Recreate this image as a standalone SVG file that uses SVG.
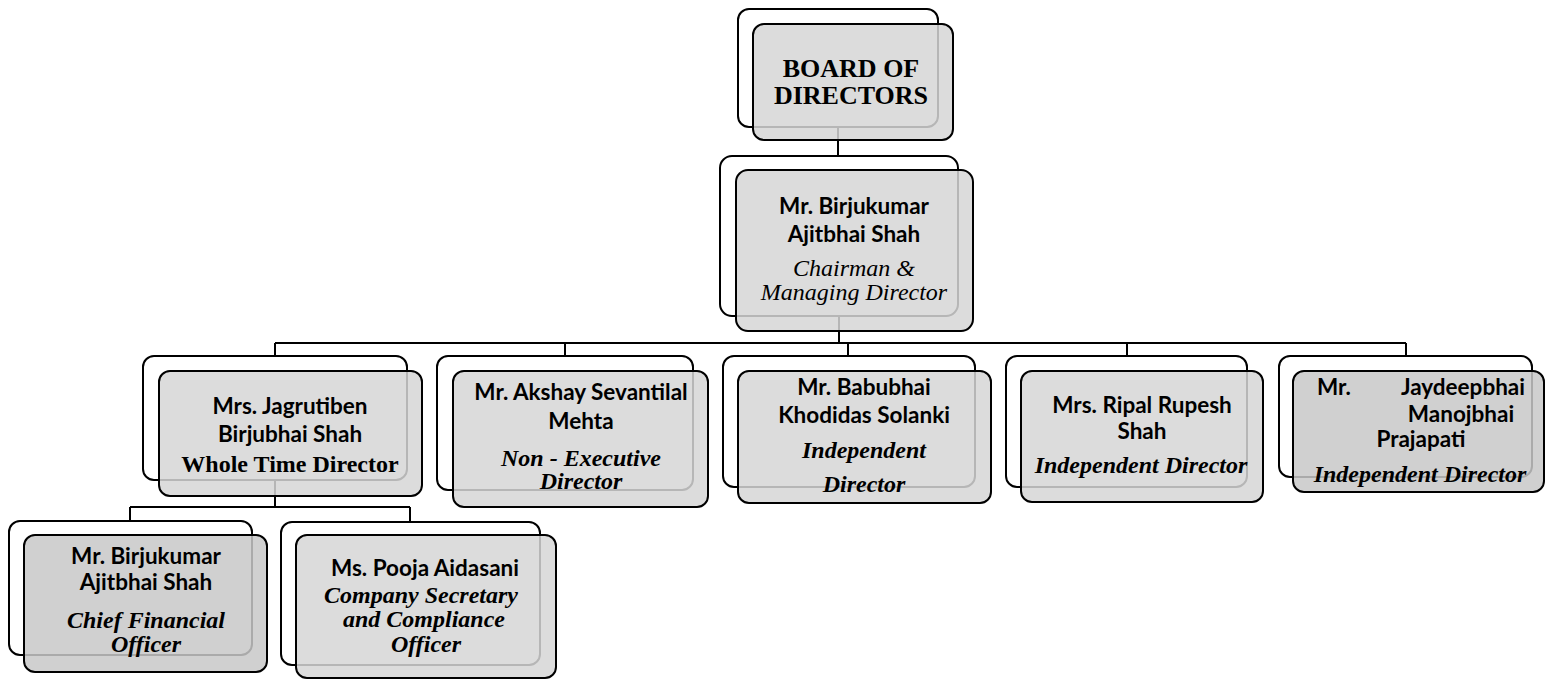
<svg xmlns="http://www.w3.org/2000/svg" width="1546" height="680" viewBox="0 0 1546 680">
<style>
.bg{fill:#ffffff}
.back{fill:#ffffff;stroke:#000;stroke-width:2}
.front{fill:#d6d6d6;fill-opacity:0.85;stroke:#000;stroke-width:2}
.dk{fill:#c8c8c8}
.conn{stroke:#000;stroke-width:2;fill:none}
.nm{font-family:Lato,"Liberation Sans",sans-serif;font-weight:bold;font-size:22.5px;text-anchor:middle;fill:#000}
.bi{font-family:"Liberation Serif",serif;font-style:italic;font-weight:bold;font-size:24px;text-anchor:middle;fill:#000}
.it{font-family:"Liberation Serif",serif;font-style:italic;font-size:24px;text-anchor:middle;fill:#000}
.bd{font-family:"Liberation Serif",serif;font-weight:bold;font-size:24px;text-anchor:middle;fill:#000}
.hd{font-family:"Liberation Serif",serif;font-weight:bold;font-size:26px;text-anchor:middle;fill:#000}
</style>
<rect class="bg" x="0" y="0" width="1546" height="680"/>
<g id="connectors">
<path class="conn" d="M838 127 V156"/>
<path class="conn" d="M839 316 V343"/>
<path class="conn" d="M275 343 H1406"/>
<path class="conn" d="M275 343 V356 M565 343 V356 M848 343 V356 M1127 343 V356 M1406 343 V356"/>
<path class="conn" d="M275 480 V507"/>
<path class="conn" d="M130 507 H410"/>
<path class="conn" d="M130 507 V521 M410 507 V522"/>
</g>
<g id="board">
<rect class="back" x="738" y="9" width="200" height="118" rx="11"/>
<rect class="front" x="753" y="24" width="200" height="116" rx="11"/>
<text class="hd" x="851" y="77">BOARD OF</text>
<text class="hd" x="851" y="104">DIRECTORS</text>
</g>
<g id="chairman">
<rect class="back" x="720" y="156" width="238" height="160" rx="12"/>
<rect class="front" x="736" y="170" width="237" height="161" rx="12"/>
<text class="nm" x="854" y="214">Mr. Birjukumar</text>
<text class="nm" x="854" y="242">Ajitbhai Shah</text>
<text class="it" x="854" y="276">Chairman &amp;</text>
<text class="it" x="854" y="300">Managing Director</text>
</g>
<g id="jagrutiben">
<rect class="back" x="143" y="356" width="264" height="124" rx="11"/>
<rect class="front" x="159" y="371" width="263" height="125" rx="11"/>
<text class="nm" x="290" y="414">Mrs. Jagrutiben</text>
<text class="nm" x="290" y="442">Birjubhai Shah</text>
<text class="bd" x="290" y="472">Whole Time Director</text>
</g>
<g id="akshay">
<rect class="back" x="437" y="356" width="256" height="134" rx="11"/>
<rect class="front" x="453" y="371" width="255" height="136" rx="11"/>
<text class="nm" x="581" y="400">Mr. Akshay Sevantilal</text>
<text class="nm" x="581" y="429">Mehta</text>
<text class="bi" x="581" y="466">Non - Executive</text>
<text class="bi" x="581" y="489">Director</text>
</g>
<g id="babubhai">
<rect class="back" x="723" y="356" width="252" height="131" rx="11"/>
<rect class="front" x="738" y="371" width="253" height="132" rx="11"/>
<text class="nm" x="864" y="395">Mr. Babubhai</text>
<text class="nm" x="864" y="423">Khodidas Solanki</text>
<text class="bi" x="864" y="458">Independent</text>
<text class="bi" x="864" y="492">Director</text>
</g>
<g id="ripal">
<rect class="back" x="1006" y="356" width="241" height="131" rx="11"/>
<rect class="front" x="1021" y="371" width="242" height="131" rx="11"/>
<text class="nm" x="1142" y="413">Mrs. Ripal Rupesh</text>
<text class="nm" x="1142" y="439">Shah</text>
<text class="bi" x="1141" y="473">Independent Director</text>
</g>
<g id="jaydeep">
<rect class="back" x="1279" y="356" width="253" height="121" rx="11"/>
<rect class="front dk" x="1293" y="371" width="251" height="121" rx="11"/>
<text class="nm" x="1317" y="395" style="text-anchor:start">Mr.</text>
<text class="nm" x="1525" y="395" style="text-anchor:end">Jaydeepbhai</text>
<text class="nm" x="1461" y="422">Manojbhai</text>
<text class="nm" x="1421" y="447">Prajapati</text>
<text class="bi" x="1420" y="482">Independent Director</text>
</g>
<g id="cfo">
<rect class="back" x="9" y="521" width="243" height="134" rx="11"/>
<rect class="front dk" x="24" y="535" width="243" height="137" rx="11"/>
<text class="nm" x="146" y="564">Mr. Birjukumar</text>
<text class="nm" x="146" y="590">Ajitbhai Shah</text>
<text class="bi" x="146" y="628">Chief Financial</text>
<text class="bi" x="146" y="652">Officer</text>
</g>
<g id="pooja">
<rect class="back" x="281" y="522" width="259" height="143" rx="11"/>
<rect class="front" x="296" y="535" width="260" height="143" rx="11"/>
<text class="nm" x="425" y="576">Ms. Pooja Aidasani</text>
<text class="bi" x="421" y="603">Company Secretary</text>
<text class="bi" x="424" y="627">and Compliance</text>
<text class="bi" x="426" y="652">Officer</text>
</g>
</svg>
